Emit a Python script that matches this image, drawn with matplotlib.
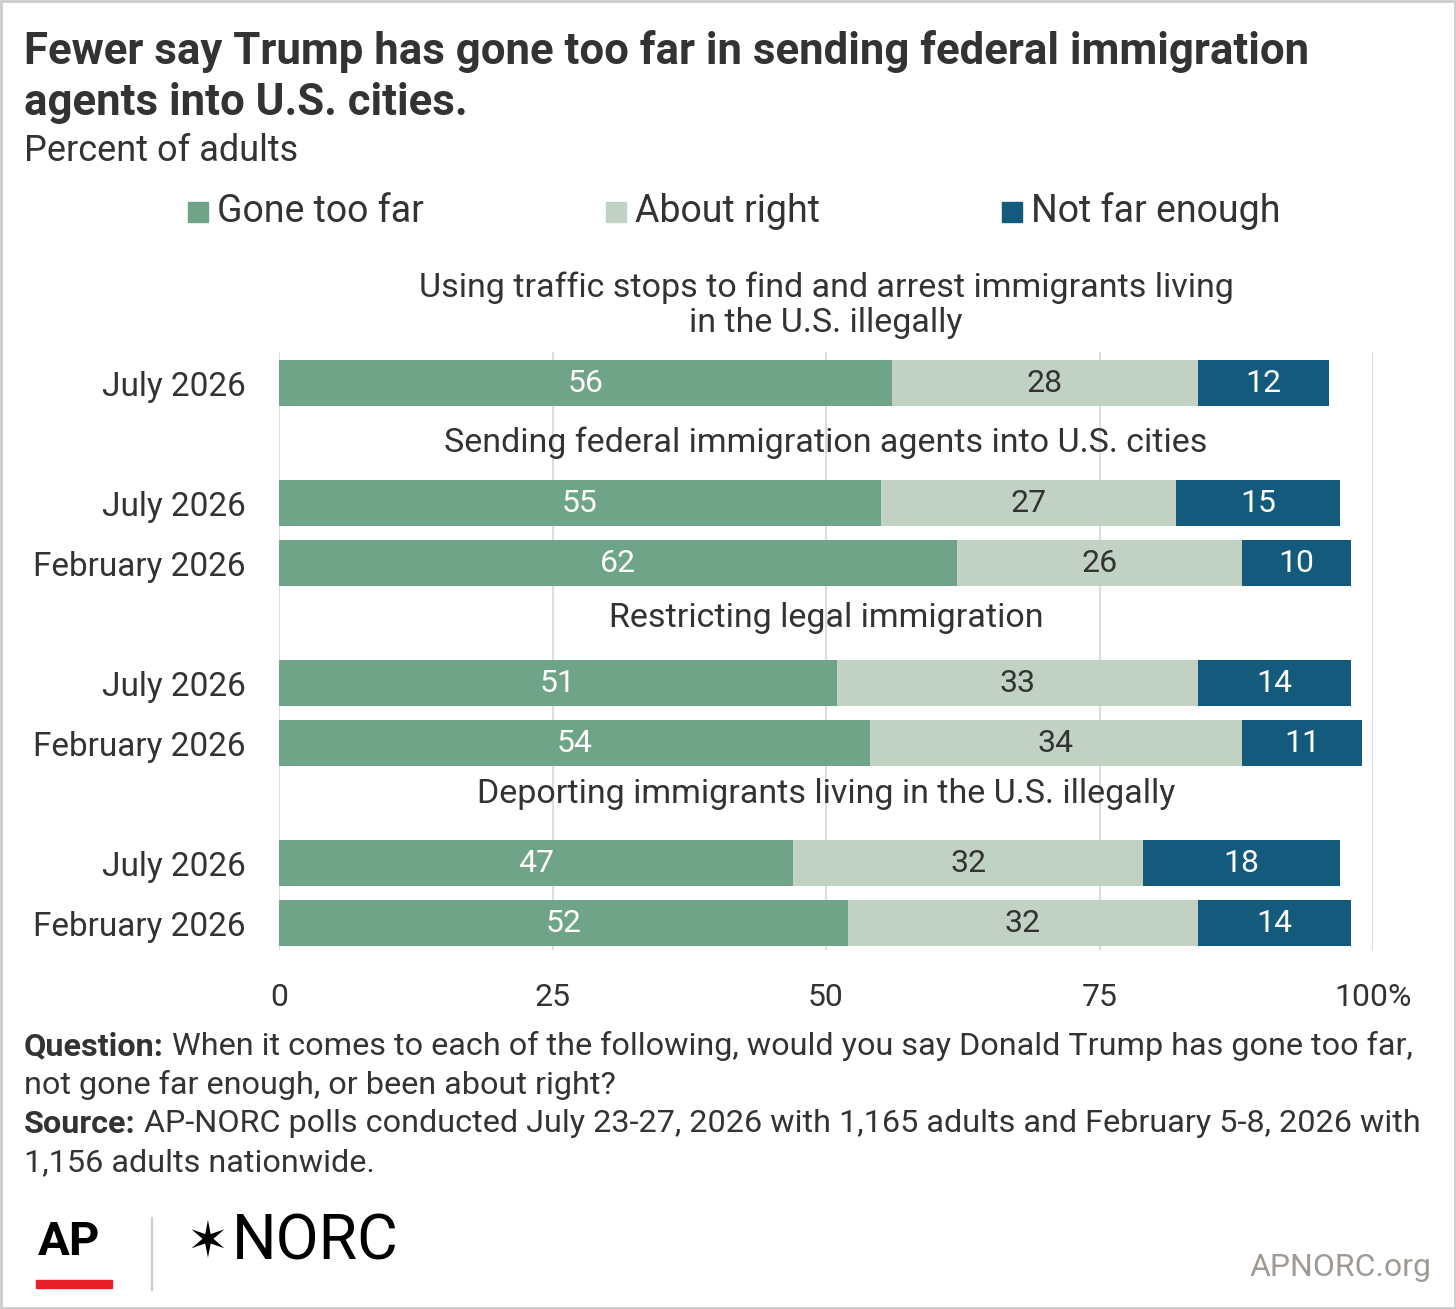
import matplotlib.pyplot as plt
from matplotlib.patches import Rectangle

plt.rcParams['font.family'] = ['Roboto', 'DejaVu Sans']

row_labels = ['July 2026', 'July 2026', 'February 2026', 'July 2026', 'February 2026',
              'July 2026', 'February 2026']
row_pos = [0, 2, 3, 5, 6, 8, 9]
gone_too_far = [56, 55, 62, 51, 54, 47, 52]
about_right = [28, 27, 26, 33, 34, 32, 32]
not_far_enough = [12, 15, 10, 14, 11, 18, 14]
headers = ['Using traffic stops to find and arrest immigrants living\nin the U.S. illegally',
           'Sending federal immigration agents into U.S. cities',
           'Restricting legal immigration',
           'Deporting immigrants living in the U.S. illegally']
header_pos = [-1.3, 1.0, 3.92, 6.85]

c_gone = '#6fa488'
c_right = '#c1d1c4'
c_not = '#135a7c'
txt = '#333333'

W, H = 1456, 1309
fig = plt.figure(figsize=(W / 100, H / 100), dpi=100)
ax = fig.add_axes([279 / W, 1 - 950 / H, 1094 / W, 598 / H])

ax.barh(row_pos, gone_too_far, height=0.77, color=c_gone, zorder=2)
ax.barh(row_pos, about_right, left=gone_too_far, height=0.77, color=c_right, zorder=2)
lefts = [a + b for a, b in zip(gone_too_far, about_right)]
ax.barh(row_pos, not_far_enough, left=lefts, height=0.77, color=c_not, zorder=2)

for y, g, r, n, l in zip(row_pos, gone_too_far, about_right, not_far_enough, lefts):
    ax.text(g / 2, y, str(g), ha='center', va='center', color='white', fontsize=23)
    ax.text(g + r / 2, y, str(r), ha='center', va='center', color=txt, fontsize=23)
    ax.text(l + n / 2, y, str(n), ha='center', va='center', color='white', fontsize=23)

for t, y in zip(headers, header_pos):
    ax.text(50, y, t, ha='center', va='center', fontsize=24.5, color=txt,
            linespacing=1.15, clip_on=False)

ax.set_xlim(0, 100)
ax.set_ylim(9.45, -0.52)
ax.set_yticks(row_pos)
ax.set_yticklabels(row_labels, fontsize=24, color=txt)
ax.set_xticks([0, 25, 50, 75, 100])
ax.set_xticklabels(['0', '25', '50', '75', '100%'], fontsize=23, color=txt)
ax.tick_params(axis='y', length=0, pad=24)
ax.tick_params(axis='x', length=0, pad=24)
ax.grid(axis='x', color='#dddddd', lw=1.5, zorder=0)
for s in ax.spines.values():
    s.set_visible(False)

# titles
fig.text(24 / W, 1 - 77 / H, 'Fewer say Trump has gone too far in sending federal immigration\nagents into U.S. cities.',
         fontsize=31.5, fontweight='bold', color=txt, va='center', linespacing=1.28)
fig.text(24 / W, 1 - 151 / H, 'Percent of adults', fontsize=26, color=txt, va='center')

# legend
for x, lab, c in [(188, 'Gone too far', c_gone), (606, 'About right', c_right), (1002, 'Not far enough', c_not)]:
    fig.patches.append(Rectangle((x / W, 1 - 222 / H), 20 / W, 20 / H, color=c, transform=fig.transFigure))
    fig.text((x + 29) / W, 1 - 211 / H, lab, fontsize=27, color=txt, va='center')

# footnotes
renderer = fig.canvas.get_renderer()
def note(y, bold, rest):
    x0 = 24 / W
    if bold:
        b = fig.text(x0, 1 - y / H, bold, fontsize=23.3, fontweight='bold', color=txt, va='center')
        x0 = fig.transFigure.inverted().transform((b.get_window_extent(renderer).x1, 0))[0]
    fig.text(x0, 1 - y / H, rest, fontsize=23.3, color=txt, va='center')

note(1046, 'Question:', ' When it comes to each of the following, would you say Donald Trump has gone too far,')
note(1085, None, 'not gone far enough, or been about right?')
note(1124, 'Source:', ' AP-NORC polls conducted July 23-27, 2026 with 1,165 adults and February 5-8, 2026 with')
note(1163, None, '1,156 adults nationwide.')

# logos
fig.text(38 / W, 1 - 1242 / H, 'AP', fontsize=34, fontweight='bold', color='black', va='center')
fig.patches.append(Rectangle((36 / W, 1 - 1288 / H), 76 / W, 8 / H, color='#e8202a', transform=fig.transFigure))
fig.add_artist(plt.Line2D([152 / W, 152 / W], [1 - 1290 / H, 1 - 1218 / H], color='#cccccc', lw=1.5))
fig.text(186 / W, 1 - 1242 / H, '✶', fontsize=36, color='black', va='center', family='DejaVu Sans')
fig.text(232 / W, 1 - 1242 / H, 'NORC', fontsize=45, color='black', va='center')
fig.text(1432 / W, 1 - 1268 / H, 'APNORC.org', fontsize=23, color='#a09a94', va='center', ha='right')

fig.patches.append(Rectangle((0.001, 0.001), 0.998, 0.998, fill=False, ec='#cccccc', lw=2, transform=fig.transFigure))

fig.savefig('out.png', dpi=100)
